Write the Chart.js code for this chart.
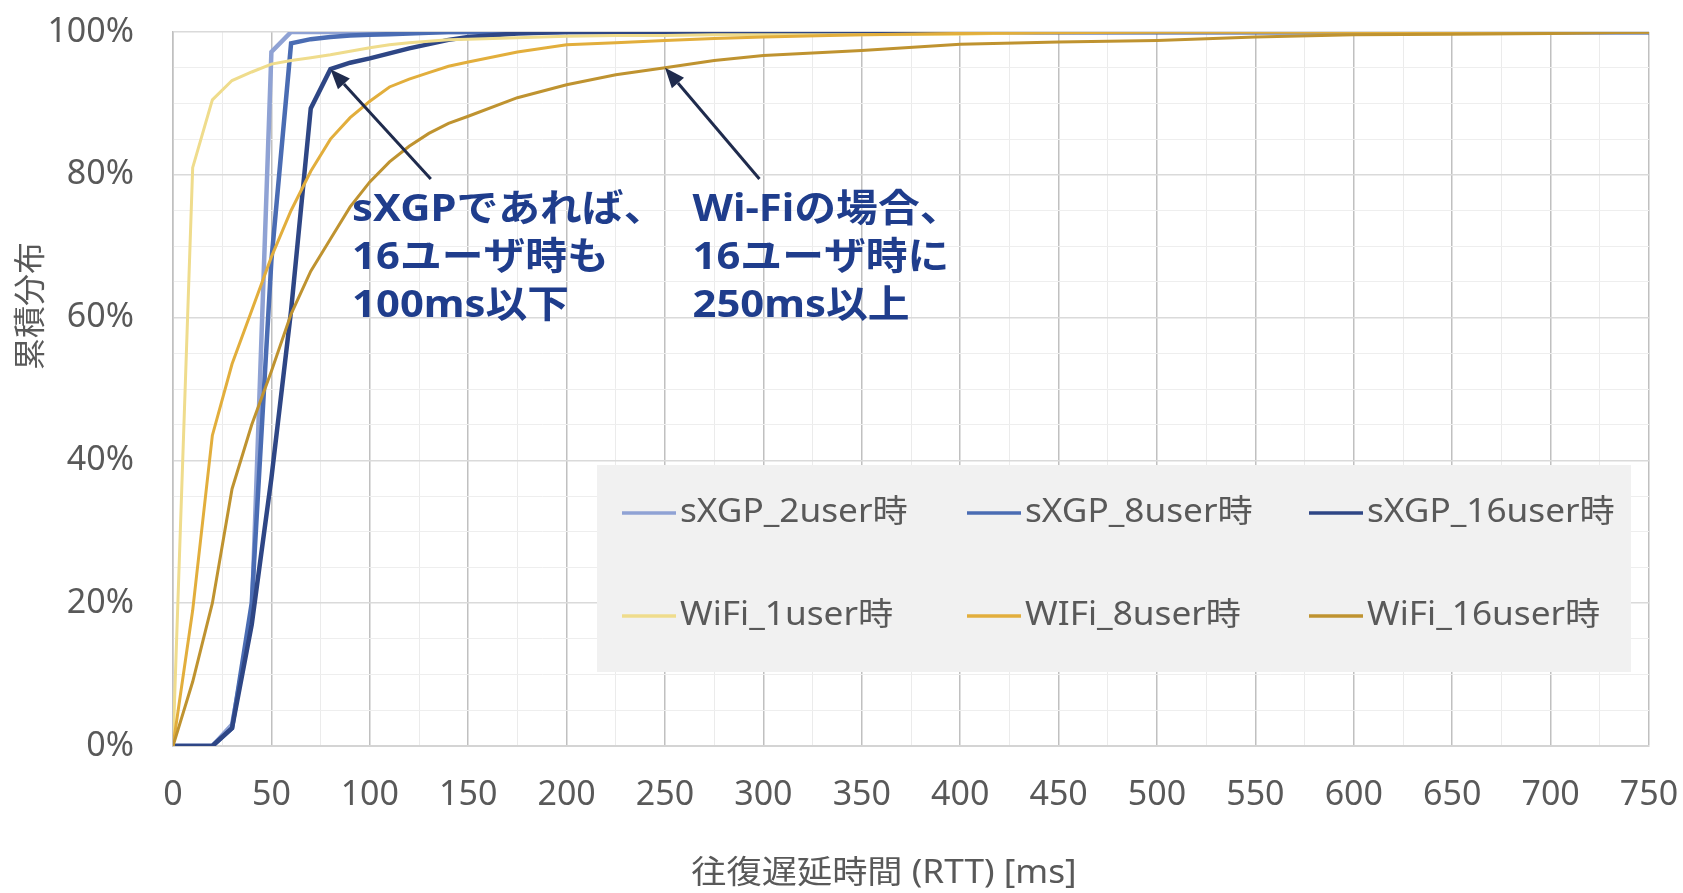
<!DOCTYPE html>
<html>
<head>
<meta charset="utf-8">
<script src="https://cdn.jsdelivr.net/npm/chart.js@4.4.1/dist/chart.umd.min.js"></script>
<style>
  html, body { margin: 0; padding: 0; background: #fff; }
  #wrap { width: 1683px; height: 893px; position: relative; }
</style>
</head>
<body>
<div id="wrap"><canvas id="rttChart"></canvas></div>
<script>
// RTT samples (ms)
const rtt = [0, 10, 20, 30, 40, 50, 60, 70, 80, 90, 100, 110, 120, 130, 140, 150, 175, 200, 225, 250, 275, 300, 350, 400, 450, 500, 550, 600, 650, 700, 750];

// cumulative distribution (%)
const sxgp2 = [0, 0, 0, 3, 18, 97.2, 100, 100, 100, 100, 100, 100, 100, 100, 100, 100, 100, 100, 100, 100, 100, 100, 100, 100, 100, 100, 100, 100, 100, 100, 100];
const sxgp8 = [0, 0, 0, 2.5, 20, 68, 98.4, 99, 99.3, 99.5, 99.6, 99.7, 99.8, 99.9, 100, 100, 100, 100, 100, 100, 100, 100, 100, 100, 100, 100, 100, 100, 100, 100, 100];
const sxgp16 = [0, 0, 0, 2.5, 17, 37.5, 61, 89.3, 94.8, 95.7, 96.3, 97, 97.7, 98.3, 98.9, 99.3, 99.8, 100, 100, 100, 100, 100, 100, 100, 100, 100, 100, 100, 100, 100, 100];
const wifi1 = [0, 81, 90.5, 93.2, 94.4, 95.5, 96, 96.4, 96.8, 97.3, 97.8, 98.2, 98.5, 98.7, 98.9, 99, 99.2, 99.4, 99.5, 99.5, 99.6, 99.6, 99.6, 99.7, 100, 100, 100, 100, 100, 100, 100];
const wifi8 = [0, 19, 43.5, 53.5, 61, 68.5, 75, 80.5, 85, 88, 90.3, 92.3, 93.4, 94.3, 95.2, 95.8, 97.2, 98.2, 98.5, 98.8, 99.1, 99.3, 99.6, 99.8, 99.9, 100, 100, 100, 100, 100, 100];
const wifi16 = [0, 9, 20, 36, 45, 52.5, 60.5, 66.5, 71, 75.5, 79, 81.8, 84, 85.8, 87.2, 88.2, 90.8, 92.6, 94, 95, 96, 96.7, 97.4, 98.3, 98.6, 98.8, 99.3, 99.6, 99.7, 99.8, 100];

const seriesNames = ["sXGP_2user時", "sXGP_8user時", "sXGP_16user時", "WiFi_1user時", "WIFi_8user時", "WiFi_16user時"];
const seriesData = [sxgp2, sxgp8, sxgp16, wifi1, wifi8, wifi16];
const seriesColors = ["#8fa2d4", "#4a6cb3", "#2e4685", "#efdc8c", "#e2ae3c", "#bf9330"];
const seriesWidths = [4.5, 4.5, 4.5, 3, 3, 3];

const xTitle = "往復遅延時間 (RTT) [ms]";
const yTitle = "累積分布";
const notes = [
  { lines: ["sXGPであれば、", "16ユーザ時も", "100ms以下"], textAt: [91, 75], tail: [131, 79.4], tipX: 80, tipSeries: sxgp16 },
  { lines: ["Wi-Fiの場合、", "16ユーザ時に", "250ms以上"], textAt: [264, 75], tail: [298, 79.4], tipX: 250, tipSeries: wifi16 },
];

const FONT = "'Noto Sans', 'Noto Sans CJK JP', sans-serif";
const GRAY_TEXT = "#595959";
const STRETCH = 1.1; // text in the source is a little wide

function wideText(ctx, text, x, y) {
  ctx.save();
  ctx.translate(x, y);
  ctx.scale(STRETCH, 1);
  ctx.fillText(text, 0, 0);
  ctx.restore();
}

const notePlugin = {
  id: "notes",
  afterDatasetsDraw(chart) {
    const { ctx, scales } = chart;
    const x = scales.x, y = scales.y;
    ctx.save();
    notes.forEach((n) => {
      const tipX = x.getPixelForValue(n.tipX);
      const tipY = y.getPixelForValue(n.tipSeries[rtt.indexOf(n.tipX)]);
      const tx = x.getPixelForValue(n.tail[0]);
      const ty = y.getPixelForValue(n.tail[1]);
      const ang = Math.atan2(tipY - ty, tipX - tx);
      const head = 20, half = 8;
      const bx = tipX - head * Math.cos(ang), by = tipY - head * Math.sin(ang);
      ctx.strokeStyle = "#1f2b4d";
      ctx.fillStyle = "#1f2b4d";
      ctx.lineWidth = 3;
      ctx.beginPath();
      ctx.moveTo(tx, ty);
      ctx.lineTo(bx, by);
      ctx.stroke();
      ctx.beginPath();
      ctx.moveTo(tipX, tipY);
      ctx.lineTo(bx + half * Math.sin(ang), by - half * Math.cos(ang));
      ctx.lineTo(bx - half * Math.sin(ang), by + half * Math.cos(ang));
      ctx.closePath();
      ctx.fill();

      ctx.fillStyle = "#1f3d8c";
      ctx.font = "bold 38px " + FONT;
      ctx.textAlign = "left";
      ctx.textBaseline = "middle";
      const lx = x.getPixelForValue(n.textAt[0]);
      const ly = y.getPixelForValue(n.textAt[1]);
      n.lines.forEach((t, i) => wideText(ctx, t, lx, ly + i * 48));
    });
    ctx.restore();
  },
  afterDraw(chart) {
    const { ctx, chartArea } = chart;
    ctx.save();
    // legend box
    const bx = chartArea.right - 1052, by = chartArea.bottom - 281;
    ctx.fillStyle = "#f1f1f1";
    ctx.fillRect(bx, by, 1034, 207);
    const colX = [25, 370, 712], rowY = [48, 151];
    ctx.font = "32px " + FONT;
    ctx.textBaseline = "middle";
    ctx.textAlign = "left";
    seriesNames.forEach((name, i) => {
      const cx = bx + colX[i % 3], cy = by + rowY[Math.floor(i / 3)];
      ctx.strokeStyle = seriesColors[i];
      ctx.lineWidth = 3.5;
      ctx.beginPath();
      ctx.moveTo(cx, cy);
      ctx.lineTo(cx + 54, cy);
      ctx.stroke();
      ctx.fillStyle = GRAY_TEXT;
      wideText(ctx, name, cx + 58, cy);
    });
    // axis titles
    ctx.font = "32px " + FONT;
    ctx.textAlign = "center";
    wideText(ctx, xTitle, (chartArea.left + chartArea.right) / 2 - 27, chartArea.bottom + 128);
    ctx.translate(32, chartArea.top + 274);
    ctx.rotate(-Math.PI / 2);
    ctx.fillText(yTitle, 0, 0);
    ctx.restore();
  },
};

function noPad(s) {
  s.paddingTop = 0;
  s.paddingBottom = 0;
  s.paddingLeft = 0;
  s.paddingRight = 0;
}

const ctx = document.getElementById("rttChart").getContext("2d");
new Chart(ctx, {
  type: "line",
  data: {
    datasets: seriesNames.map((name, i) => ({
      label: name,
      data: rtt.map((v, j) => ({ x: v, y: seriesData[i][j] })),
      borderColor: seriesColors[i],
      backgroundColor: seriesColors[i],
      borderWidth: seriesWidths[i],
      pointRadius: 0,
      tension: 0,
      fill: false,
      order: seriesNames.length - i,
    })),
  },
  options: {
    responsive: true,
    maintainAspectRatio: false,
    animation: false,
    layout: { padding: { top: 32, right: 34, bottom: 0, left: 0 } },
    plugins: {
      legend: { display: false },
      tooltip: { enabled: false },
    },
    scales: {
      x: {
        type: "linear",
        min: 0,
        max: 750,
        afterFit: (s) => { s.height = 147; noPad(s); },
        ticks: {
          stepSize: 25,
          autoSkip: false,
          maxRotation: 0,
          padding: 29,
          color: GRAY_TEXT,
          font: { family: FONT, size: 34 },
          callback: (v) => (v % 50 === 0 ? v : ""),
        },
        grid: {
          drawTicks: false,
          color: (c) => (c.tick && c.tick.value % 50 === 0 ? "#c0c0c0" : "#ebebeb"),
          lineWidth: (c) => (c.tick && c.tick.value % 50 === 0 ? 1.5 : 1),
        },
        border: { color: "#d4d4d4", width: 2 },
      },
      y: {
        min: 0,
        max: 100,
        afterFit: (s) => { s.width = 173; noPad(s); },
        ticks: {
          stepSize: 5,
          autoSkip: false,
          padding: 39,
          color: GRAY_TEXT,
          font: { family: FONT, size: 34 },
          callback: (v) => (v % 20 === 0 ? v + "%" : ""),
        },
        grid: {
          drawTicks: false,
          color: (c) => (c.tick && c.tick.value % 20 === 0 ? "#dadada" : "#eeeeee"),
          lineWidth: (c) => (c.tick && c.tick.value % 20 === 0 ? 1.5 : 1),
        },
        border: { color: "#c0c0c0", width: 1.5 },
      },
    },
  },
  plugins: [notePlugin],
});
</script>
</body>
</html>
